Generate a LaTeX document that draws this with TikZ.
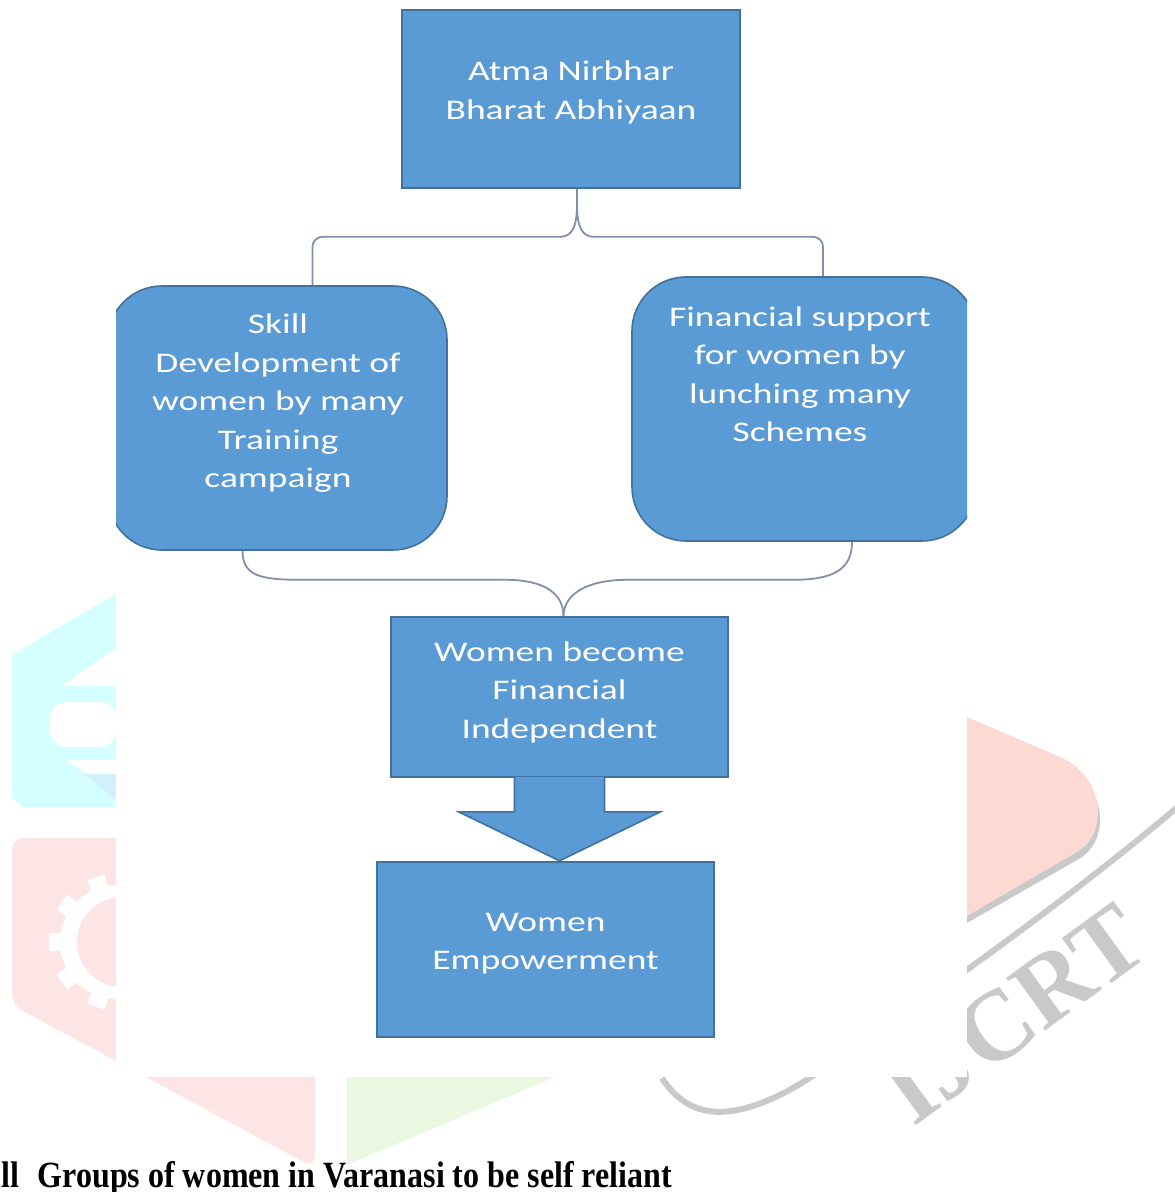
\documentclass[tikz,border=0pt]{standalone}
\usepackage{fontspec}
\usepackage{tikz}
\usetikzlibrary{calc, positioning}
\newfontfamily\boxfont{Carlito}[FakeStretch=1.32]
\newfontfamily\capfont{Liberation Serif}[FakeStretch=0.865]
\newfontfamily\markfont{Liberation Serif}
\definecolor{boxblue}{HTML}{5B9BD5}
\definecolor{boxline}{HTML}{41719C}
\definecolor{connline}{HTML}{8190A8}
\definecolor{wmcyan}{HTML}{D4FEFF}
\definecolor{wmlightblue}{HTML}{D2F0FA}
\definecolor{wmpink}{HTML}{FDE5E5}
\definecolor{wmrose}{HTML}{FDD9D3}
\definecolor{wmgreen}{HTML}{EBF8E1}
\definecolor{wmgray}{HTML}{C9C9C9}

\begin{document}
\begin{tikzpicture}[x=0.5pt, y=-0.5pt,
    box/.style={draw=boxline, fill=boxblue, line width=0.8pt, inner sep=0pt},
    boxtext/.style={text=white, align=center, inner sep=0pt,
      font=\boxfont\fontsize{14.2}{19.25}\selectfont},
    conn/.style={draw=connline, line width=0.9pt}]
  \useasboundingbox (0,0) rectangle (1174,1192);
  \fill[white] (0,0) rectangle (1174,1192);

  % Wasserzeichen
  \fill[wmcyan] (12,655) -- (116,594) -- (116,807) -- (22,807) -- (12,797) -- cycle;
  \fill[white] (116,648) -- (62,686) -- (116,686) -- cycle;
  \fill[white, rounded corners=8pt] (116,702) -- (50,702) -- (50,747) -- (116,747) -- cycle;
  \fill[white] (66,760) -- (116,760) -- (116,774) -- (86,774) -- cycle;
  \fill[wmlightblue] (84,774) -- (116,774) -- (116,800) -- cycle;
  \fill[wmpink, rounded corners=6pt] (12,1005) -- (12,838) -- (315,838) -- (315,1168) -- cycle;
  \fill[white] (117,942) circle[radius=57];
  \foreach \a in {18,54,...,342} {
      \fill[white, shift={(117,942)}, rotate=\a] (-9,0) rectangle (9,68);
  }
  \fill[wmpink] (122,942) circle[radius=45];
  \fill[wmgreen] (347,1060) -- (595,1060) -- (347,1165) -- cycle;
  \fill[wmgray] (960,719) -- (1062,764) .. controls (1107,783) and (1112,842) .. (1077,860) -- (960,927) -- cycle;
  \fill[wmrose] (960,714) -- (1060,757) .. controls (1105,776) and (1110,835) .. (1075,853) -- (960,920) -- cycle;
  \draw[wmgray, line width=3pt] (662,1078) .. controls (690,1122) and (735,1122) .. (800,1084)
      .. controls (930,1000) and (1080,890) .. (1180,805);
  \node[text=wmgray, rotate=36, inner sep=0pt,
      font=\markfont\bfseries\fontsize{50}{50}\selectfont] (mark) at (1014,1014) {IJCRT};
  \fill[white] (116,0) rectangle (967,1077);

  % Unterschrift
  \node[anchor=base west, inner sep=0pt,
      font=\capfont\bfseries\fontsize{18.5}{20}\selectfont] (caption) at (1,1187)
      {ll\hspace{0.5em}Groups of women in Varanasi to be self reliant};

  \begin{scope}
    \clip (116,0) rectangle (967,1077);
    % Kaesten
    \node[box, minimum width=169pt, minimum height=89pt] (atma) at (571,99) {};
    \node[box, rounded corners=27pt, minimum width=169.5pt, minimum height=132pt] (skill) at (277.5,418) {};
    \node[box, rounded corners=27pt, minimum width=172pt, minimum height=132pt] (finance) at (804,409) {};
    \node[box, minimum width=168.5pt, minimum height=80pt] (indep) at (559.5,697) {};
    \node[box, minimum width=168.5pt, minimum height=87.5pt] (empower) at (545.5,949.5) {};

    % Texte
    \node[boxtext] (atmatext) at ($(atma.center)+(0,-6.5)$) {Atma Nirbhar\\Bharat Abhiyaan};
    \node[boxtext] (skilltext) at ($(skill.center)+(0.5,-14.5)$)
        {Skill\\Development of\\women by many\\Training\\campaign};
    \node[boxtext] (financetext) at ($(finance.center)+(-4,-35)$)
        {Financial support\\for women by\\lunching many\\Schemes};
    \node[boxtext] (indeptext) at ($(indep.center)+(0,-5)$) {Women become\\Financial\\Independent};
    \node[boxtext] (empowertext) at ($(empower.center)+(0,-6)$) {Women\\Empowerment};

    % Verbindungen
    \coordinate (split) at ($(atma.south)+(6,0)$);
    \draw[conn] (split) -- ++(0,16) .. controls +(0,22) and +(12,0) .. ++(-17,32)
        [rounded corners=5pt] -| ($(skill.north)+(35,0)$);
    \draw[conn] (split) -- ++(0,16) .. controls +(0,22) and +(-12,0) .. ++(17,32)
        [rounded corners=5pt] -| ($(finance.north)+(19,0)$);
    \draw[conn] ($(skill.south)+(-35,0)$) .. controls +(0,25) and +(-40,0) .. ++(58,29)
        -- ++(205,0) .. controls +(40,0) and +(0,-22) .. ($(indep.north)+(4,0)$);
    \draw[conn] ($(finance.south)+(48,0)$) .. controls +(0,28) and +(40,0) .. ++(-59,38)
        -- ++(-166,0) .. controls +(-40,0) and +(0,-22) .. ($(indep.north)+(4,0)$);

    % Blockpfeil
    \path[fill=boxblue, draw=boxline, line width=0.8pt] ($(indep.south)+(-45,-1)$) -- ++(0,35) -- ++(-56,0)
        -- ($(indep.south)+(0,83)$) -- ++(101,-49) -- ++(-56,0) -- ++(0,-35);
  \end{scope}
\end{tikzpicture}
\end{document}
